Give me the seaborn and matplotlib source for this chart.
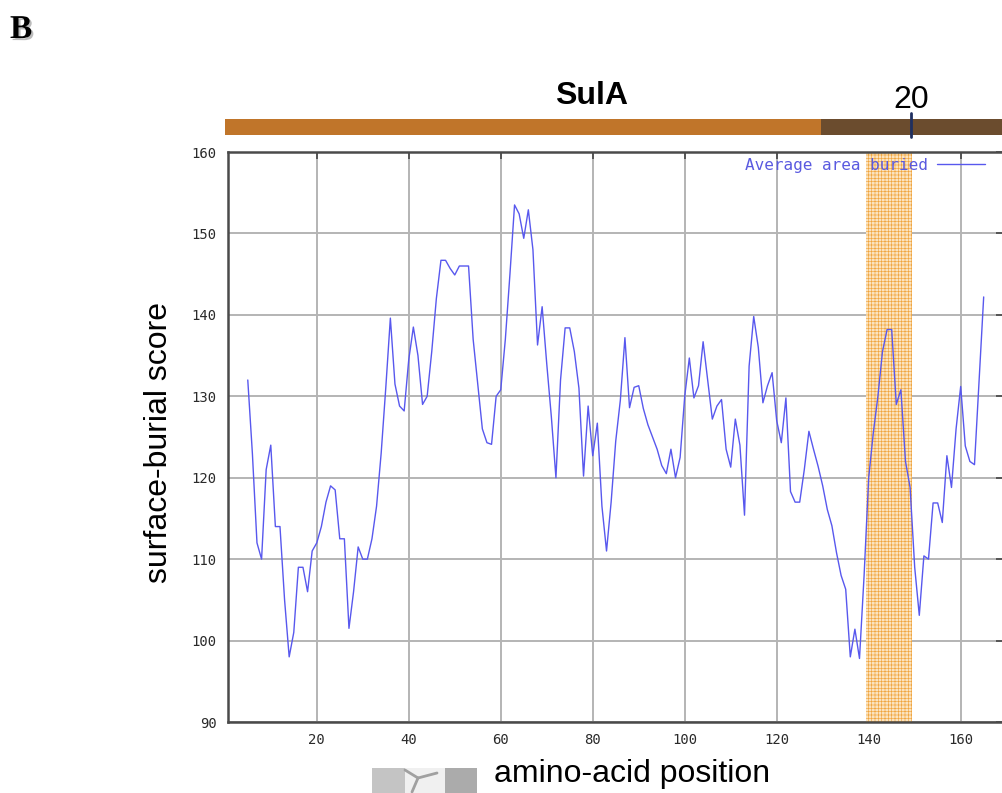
import matplotlib
matplotlib.use("Agg")
import matplotlib.pyplot as plt
import pandas as pd
import seaborn as sns
from matplotlib import patheffects
from matplotlib.patches import Rectangle
from matplotlib.lines import Line2D

# surface-burial profile (ProtScale style, window 9), residues 5..165
positions = list(range(5, 166))
burial_score = [
    132, 123, 112, 110, 121, 124, 114, 114, 105, 98,
    101, 109, 109, 106, 111, 112, 114, 117, 119, 118.5,
    112.5, 112.5, 101.5, 106, 111.5, 110, 110, 112.5, 116.5, 123,
    131, 139.6, 131.5, 128.8, 128.2, 134.5, 138.5, 135, 129, 130,
    135.5, 142, 146.7, 146.7, 145.7, 144.9, 146, 146, 146, 137,
    131.5, 126, 124.3, 124.1, 130, 130.8, 137, 145, 153.5, 152.4,
    149.4, 152.9, 148, 136.3, 141, 134, 127.5, 120, 132, 138.4,
    138.4, 135.5, 131, 120.2, 128.8, 122.7, 126.7, 116.5, 111, 117,
    124.5, 129.5, 137.2, 128.6, 131.1, 131.3, 128.5, 126.5, 125, 123.5,
    121.5, 120.5, 123.5, 120, 122.5, 130, 134.7, 129.8, 131.3, 136.7,
    132, 127.2, 128.8, 129.6, 123.5, 121.3, 127.2, 124, 115.4, 133.7,
    139.8, 136, 129.2, 131.3, 132.9, 127, 124.3, 129.8, 118.3, 117,
    117, 121, 125.7, 123.5, 121.4, 119, 116.1, 114.1, 110.8, 108,
    106.3, 98, 101.4, 97.8, 108, 120, 125.5, 130, 135.5, 138.2,
    138.2, 129, 130.8, 122, 118.8, 109, 103.1, 110.4, 110, 116.9,
    116.9, 114.5, 122.7, 118.8, 126, 131.2, 123.9, 122, 121.6, 132, 142.2,
]

# highlighted region
band_start, band_end = 139.5, 149.5

# domain bar above the plot
domain_starts = [0, 129.6]
domain_ends = [129.6, 169.2]
domain_colors = ["#C0752A", "#6B4C2E"]
marker_pos = 149.2
marker_label = "20"
protein_name = "SulA"

x_ticks = [20, 40, 60, 80, 100, 120, 140, 160]
y_ticks = [90, 100, 110, 120, 130, 140, 150, 160]

sns.set_style("white")
plt.rcParams["font.family"] = ["Liberation Sans", "DejaVu Sans"]
plt.rcParams["text.color"] = "black"
plt.rcParams["axes.labelcolor"] = "black"
plt.rcParams["hatch.linewidth"] = 0.45

fig = plt.figure(figsize=(10.03, 7.93), dpi=100)
ax = fig.add_axes([228 / 1003, 71 / 793, 775 / 1003, 570 / 793])

df = pd.DataFrame({"position": positions, "score": burial_score})
sns.lineplot(data=df, x="position", y="score", ax=ax, color="#5858EE",
             linewidth=1.0, label="Average area buried", zorder=3)

ax.axvspan(band_start, band_end, facecolor="#FBE3BE", edgecolor="#F0A43C",
           hatch="+++++", linewidth=0, zorder=1)

ax.set_xlim(0.7, 169.2)
ax.set_ylim(90, 160)
ax.set_xticks(x_ticks)
ax.set_yticks(y_ticks)
ax.set_axisbelow(True)
ax.grid(True, color="#B4B4B4", linewidth=1.4)
ax.tick_params(direction="in", length=5, width=1.2, color="#444444",
               top=True, right=True, labelsize=10, labelcolor="#2A2A2A", pad=8)
for lab in ax.get_xticklabels() + ax.get_yticklabels():
    lab.set_family("DejaVu Sans Mono")
for s in ax.spines.values():
    s.set_color("#4A4A4A")
    s.set_linewidth(1.8)

leg = ax.legend(loc="upper right", bbox_to_anchor=(0.977, 0.99), frameon=False,
                markerfirst=False, handlelength=3.0, handletextpad=0.6,
                borderpad=0, borderaxespad=0,
                prop={"family": "DejaVu Sans Mono", "size": 11.5})
for t in leg.get_texts():
    t.set_color("#5A5AE0")

ax.set_xlabel("amino-acid position", fontsize=23)
ax.xaxis.set_label_coords(0.521, -0.091)
ax.xaxis.label.set_va("center")
ax.set_ylabel("surface-burial score", fontsize=23)
ax.yaxis.set_label_coords(-0.089, 0.491)
ax.yaxis.label.set_va("center")

# domain bar
axb = fig.add_axes([225 / 1003, (793 - 135) / 793, 778 / 1003, 16 / 793])
widths = [e - s for s, e in zip(domain_starts, domain_ends)]
axb.barh([0] * len(widths), widths, left=domain_starts, height=1,
         color=domain_colors, linewidth=0)
axb.set_xlim(0, 169.2)
axb.set_ylim(-0.5, 0.5)
axb.axis("off")
axb.plot([marker_pos, marker_pos], [-0.5 - 2 / 16, 0.5 + 6 / 16],
         color="#1F2F60", linewidth=2, clip_on=False)
axb.text(marker_pos, 0.5 + 11 / 16, marker_label, ha="center", va="baseline",
         fontsize=23)
axb.text(79.8, 0.5 + 15 / 16, protein_name, ha="center", va="baseline",
         fontsize=23, fontweight="bold")

# panel letter
fig.text(10 / 1003, 1 - 38 / 793, "B", family="Liberation Serif",
         fontweight="bold", fontsize=24, va="baseline",
         path_effects=[patheffects.SimplePatchShadow(offset=(1.5, -1.5),
                                                     shadow_rgbFace="#BBBBBB",
                                                     alpha=1),
                       patheffects.Normal()])

# cropped image fragment next to the x label
for x0, w, c in [(372, 33, "#C4C4C4"), (405, 40, "#F0F0F0"), (445, 32, "#ABABAB")]:
    fig.add_artist(Rectangle((x0 / 1003, 0), w / 1003, 25 / 793,
                             transform=fig.transFigure, color=c, lw=0))
for xs, ys in [([405, 418], [770, 778]), ([437, 418], [773, 778]), ([418, 412], [778, 792])]:
    fig.add_artist(Line2D([x / 1003 for x in xs], [1 - y / 793 for y in ys],
                          transform=fig.transFigure, color="#A0A0A0", lw=2))

fig.savefig("out.png", dpi=100)
